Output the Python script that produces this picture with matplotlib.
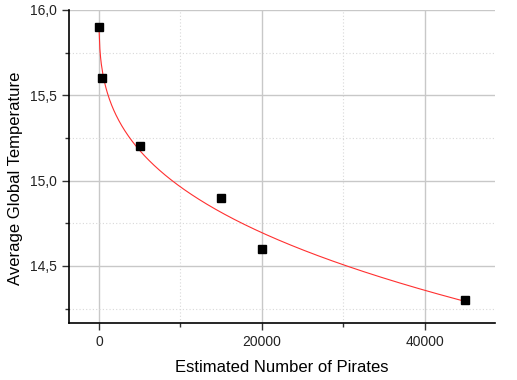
import numpy as np
import matplotlib
matplotlib.use('agg')
import matplotlib.pyplot as plt
import matplotlib.ticker as mticker

# pirates vs temperature
pirates = [17, 400, 5000, 15000, 20000, 45000]
temperature = [15.9, 15.6, 15.2, 14.9, 14.6, 14.3]

x = np.array(pirates, dtype=float)
y = np.array(temperature)

# fit y = a + b*x^c (grid search on c, least squares for a, b)
best = None
for c in np.linspace(0.05, 1.0, 400):
    A = np.vstack([np.ones_like(x), x ** c]).T
    coef, res, _, _ = np.linalg.lstsq(A, y, rcond=None)
    err = np.sum((A @ coef - y) ** 2)
    if best is None or err < best[0]:
        best = (err, c, coef)
_, c, (a, b) = best
xf = np.linspace(x.min(), x.max(), 500)
yf = a + b * xf ** c

plt.rcParams['font.family'] = ['Liberation Sans', 'DejaVu Sans']

fig = plt.figure(figsize=(5.17, 3.8), dpi=100)
ax = fig.add_axes([0.1335, 0.15, 0.8235, 0.8237])

ax.plot(xf, yf, color='#ff3030', lw=0.8, zorder=3)
ax.plot(x, y, 's', color='black', ms=5.5, zorder=4)

ax.set_xlim(-3680, 48600)
ax.set_ylim(14.165, 16.0)
ax.xaxis.set_major_locator(mticker.MultipleLocator(20000))
ax.xaxis.set_minor_locator(mticker.MultipleLocator(10000))
ax.yaxis.set_major_locator(mticker.MultipleLocator(0.5))
ax.yaxis.set_minor_locator(mticker.MultipleLocator(0.25))
ax.yaxis.set_major_formatter(mticker.FuncFormatter(lambda v, p: ('%.1f' % v).replace('.', ',')))

ax.grid(which='major', color='#c8c8c8', lw=1.0, ls='-', zorder=0)
ax.grid(which='minor', color='#d8d8d8', lw=0.8, ls=(0, (1, 2)), zorder=0)
ax.set_axisbelow(True)

for s in ['top', 'right']:
    ax.spines[s].set_visible(False)
for s in ['left', 'bottom']:
    ax.spines[s].set_linewidth(1.2)

ax.tick_params(which='major', length=5, width=1, labelsize=10, color='#333333', labelcolor='#222222')
ax.tick_params(which='minor', length=3, width=1, color='#333333')

ax.set_xlabel('Estimated Number of Pirates', fontsize=12, labelpad=8)
ax.set_ylabel('Average Global Temperature', fontsize=12)
ax.yaxis.set_label_coords(-0.108, 0.463)

fig.savefig('out.png', dpi=100)
